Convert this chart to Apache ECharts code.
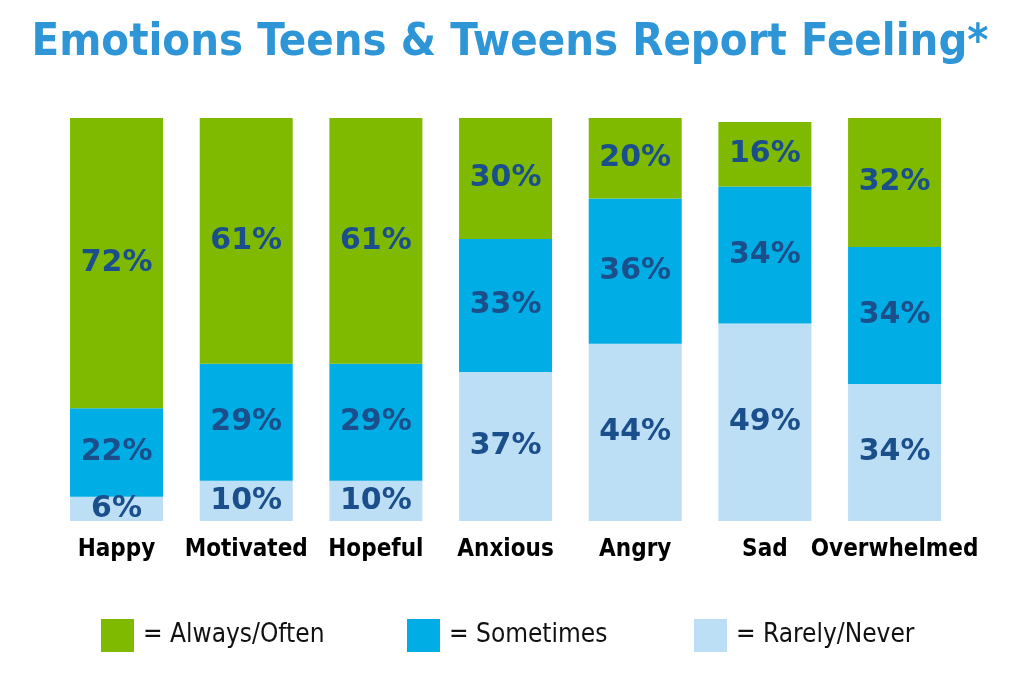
<!DOCTYPE html>
<html>
<head>
<meta charset="utf-8">
<script src="https://cdn.jsdelivr.net/npm/echarts@6/dist/echarts.min.js"></script>
<style>
  html, body { margin: 0; padding: 0; background: #fff; }
  #chart { width: 1020px; height: 675px; }
</style>
</head>
<body>
<div id="chart"></div>
<script>
const categories = ['Happy', 'Motivated', 'Hopeful', 'Anxious', 'Angry', 'Sad', 'Overwhelmed']
const rarelyNever  = [6, 10, 10, 37, 44, 49, 34]
const sometimes    = [22, 29, 29, 33, 36, 34, 34]
const alwaysOften  = [72, 61, 61, 30, 20, 16, 32]

const C_ALWAYS = '#7fba00'
const C_SOMETIMES = '#00ade4'
const C_RARELY = '#bcdff5'
const C_LABEL = '#1b4f8c'
const NARROW = '"DejaVu Sans Condensed", "Liberation Sans Narrow", sans-serif'

const chart = echarts.init(document.getElementById('chart'))

const seg = (name, data, color) => ({
  name, type: 'bar', stack: 'all', data,
  barWidth: 93,
  itemStyle: { color },
  label: {
    show: true, position: 'inside',
    formatter: '{c}%',
    color: C_LABEL, fontFamily: 'DejaVu Sans', fontWeight: 'bold', fontSize: 30,
  },
})

// one legend per item so each box sits where the reference puts it
const legendItem = (name, color, left) => ({
  data: [{ name, itemStyle: { color } }],
  left, top: 614,
  itemWidth: 33, itemHeight: 33, itemGap: 0,
  icon: 'rect',
  formatter: '= {name}',
  textStyle: { fontFamily: NARROW, fontSize: 26, color: '#111', padding: [0, 0, 0, 4] },
  selectedMode: false,
})

chart.setOption({
  animation: false,
  title: {
    text: 'Emotions Teens & Tweens Report Feeling*',
    left: 'center', top: 16,
    textStyle: { fontFamily: NARROW, fontWeight: 'bold', fontSize: 45, color: '#2e96d6' },
  },
  legend: [
    legendItem('Always/Often', C_ALWAYS, 96),
    legendItem('Sometimes', C_SOMETIMES, 402),
    legendItem('Rarely/Never', C_RARELY, 689),
  ],
  grid: { top: 118, bottom: 154, left: 51.7, right: 60.6 },
  xAxis: {
    type: 'category', data: categories,
    axisLine: { show: false }, axisTick: { show: false },
    axisLabel: { interval: 0, margin: 17, color: '#000', fontFamily: NARROW, fontWeight: 'bold', fontSize: 24 },
  },
  yAxis: { type: 'value', min: 0, max: 100, show: false, splitLine: { show: false } },
  series: [
    seg('Rarely/Never', rarelyNever, C_RARELY),
    seg('Sometimes', sometimes, C_SOMETIMES),
    seg('Always/Often', alwaysOften, C_ALWAYS),
  ],
})
</script>
</body>
</html>
